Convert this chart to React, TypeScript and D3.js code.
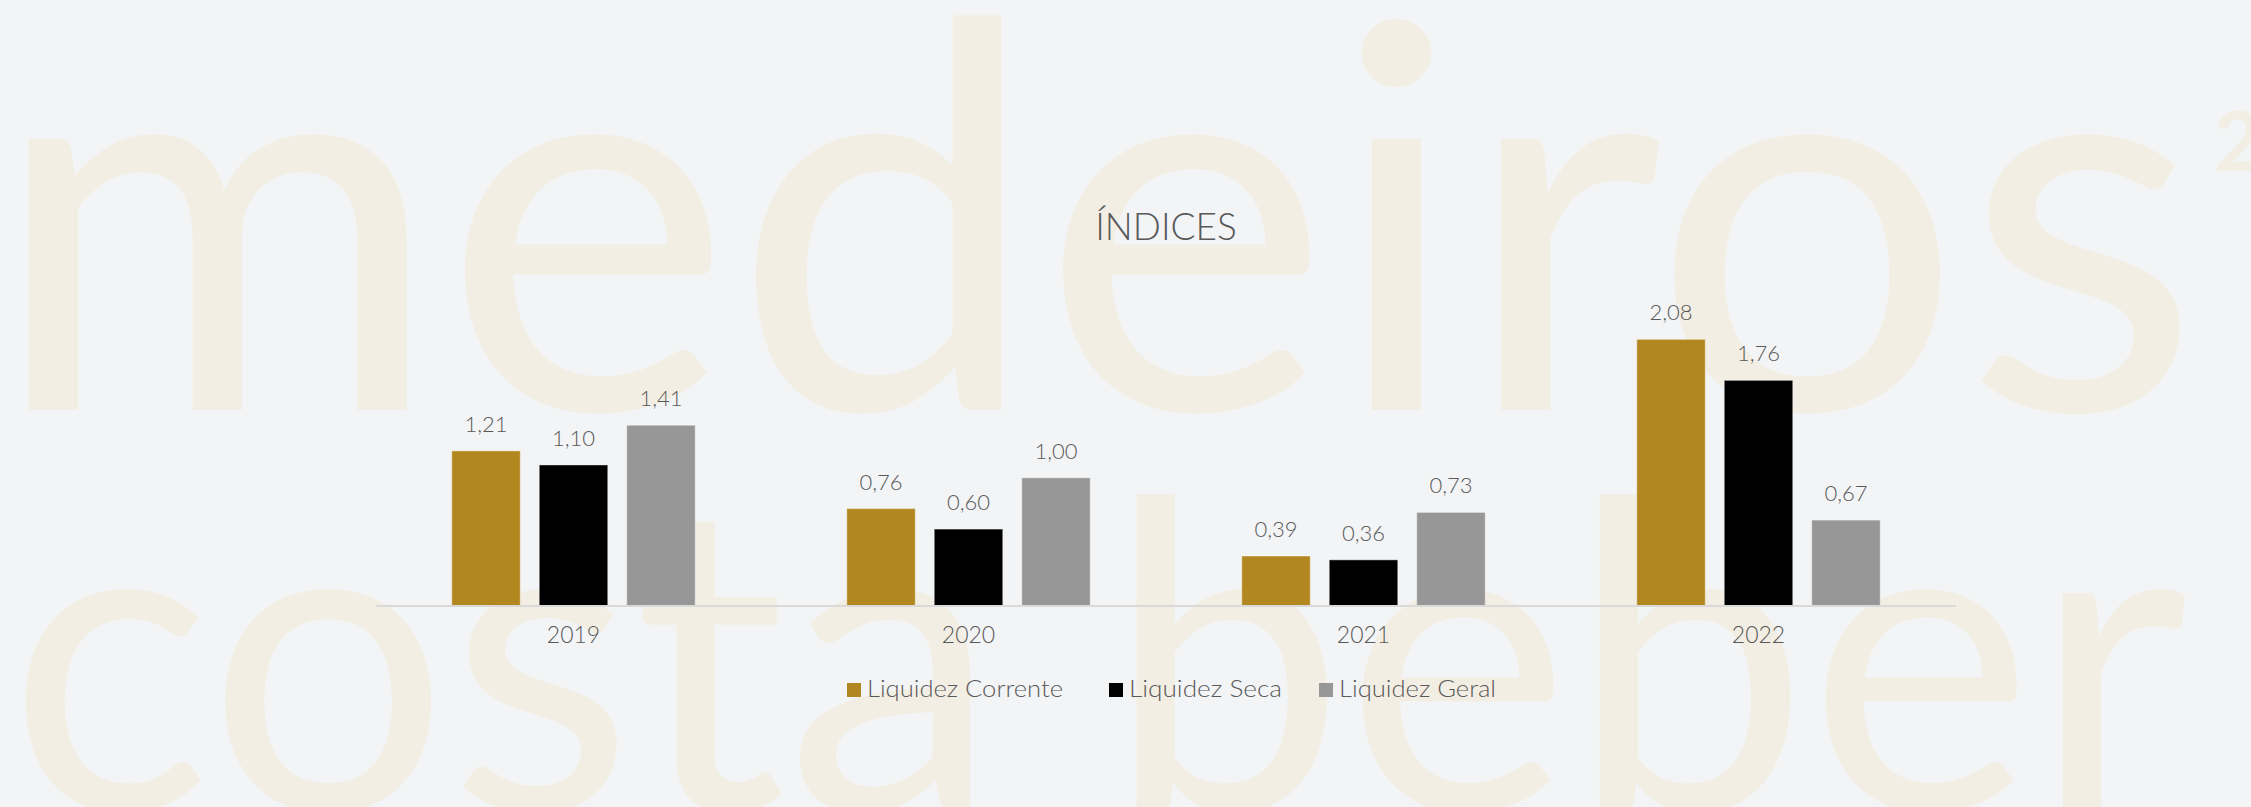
import React from "react";
import * as d3 from "d3";

const years = ["2019", "2020", "2021", "2022"];
const seriesNames = ["Liquidez Corrente", "Liquidez Seca", "Liquidez Geral"];
const liquidezCorrente = [1.21, 0.76, 0.39, 2.08];
const liquidezSeca = [1.1, 0.6, 0.36, 1.76];
const liquidezGeral = [1.41, 1.0, 0.73, 0.67];
const seriesColors = ["#b38720", "#000000", "#979797"];
const title = "ÍNDICES";

const W = 2251;
const H = 807;
const FONT = "Lato, 'Noto Sans', sans-serif";
const TEXT = "#595959";

export default function App() {
  const seriesValues = [liquidezCorrente, liquidezSeca, liquidezGeral];
  const x0 = d3.scaleBand<string>().domain(years).range([376, 1956]).padding(0);
  const x1 = d3
    .scaleBand<string>()
    .domain(seriesNames)
    .range([0, x0.bandwidth()])
    .paddingInner(0.217)
    .paddingOuter(0.866);
  const y = d3.scaleLinear().domain([0, 2.5]).range([606, 285.5]);
  const fmt = (v: number) => d3.format(".2f")(v).replace(".", ",");

  const legendX = [847, 1109, 1319];
  const legendW = [196, 153, 157];

  return (
    <svg
      width={W}
      height={H}
      style={{ position: "absolute", left: 0, top: 0, display: "block" }}
    >
      <rect x={0} y={0} width={W} height={H} fill="#f3f4f6" />
      {/* watermark */}
      <g fill="#f3eee3" fontFamily={FONT}>
        <text x={-10} y={410} fontSize={536} textLength={2211} lengthAdjust="spacingAndGlyphs">
          medeiros
        </text>
        <text x={2214} y={171} fontSize={82} fontWeight={700}>
          2
        </text>
        <text x={8} y={810} fontSize={429} textLength={2180} lengthAdjust="spacingAndGlyphs">
          costa beber
        </text>
      </g>
      {/* title */}
      <text
        x={1166}
        y={240}
        textAnchor="middle"
        fontFamily={FONT}
        fontSize={37}
        fill={TEXT}
        fontWeight={300}
      >
        {title}
      </text>
      {/* bars */}
      {years.map((yr, i) => (
        <g key={yr} transform={`translate(${x0(yr)},0)`}>
          {seriesNames.map((s, j) => {
            const v = seriesValues[j][i];
            const bx = x1(s)!;
            return (
              <g key={s}>
                <rect
                  x={bx}
                  y={y(v)}
                  width={x1.bandwidth()}
                  height={y(0) - y(v)}
                  fill={seriesColors[j]}
                  stroke="#ffffff"
                  strokeOpacity={0.35}
                  strokeWidth={1.2}
                />
                <text
                  x={bx + x1.bandwidth() / 2}
                  y={y(v) - 19}
                  textAnchor="middle"
                  fontFamily={FONT}
                  fontSize={22}
                  fill={TEXT}
                  fontWeight={300}
                >
                  {fmt(v)}
                </text>
              </g>
            );
          })}
          <text
            x={x0.bandwidth() / 2}
            y={643}
            textAnchor="middle"
            fontFamily={FONT}
            fontSize={23}
            fill={TEXT}
            fontWeight={300}
          >
            {yr}
          </text>
        </g>
      ))}
      {/* axis line */}
      <line x1={376} x2={1956} y1={y(0)} y2={y(0)} stroke="#d9d9d9" strokeWidth={2} />
      {/* legend */}
      {seriesNames.map((s, j) => (
        <g key={s}>
          <rect x={legendX[j]} y={683} width={14} height={14} fill={seriesColors[j]} />
          <text
            x={legendX[j] + 20}
            y={697}
            fontFamily={FONT}
            fontSize={24}
            fill={TEXT}
            fontWeight={300}
            textLength={legendW[j]}
            lengthAdjust="spacingAndGlyphs"
          >
            {s}
          </text>
        </g>
      ))}
    </svg>
  );
}
